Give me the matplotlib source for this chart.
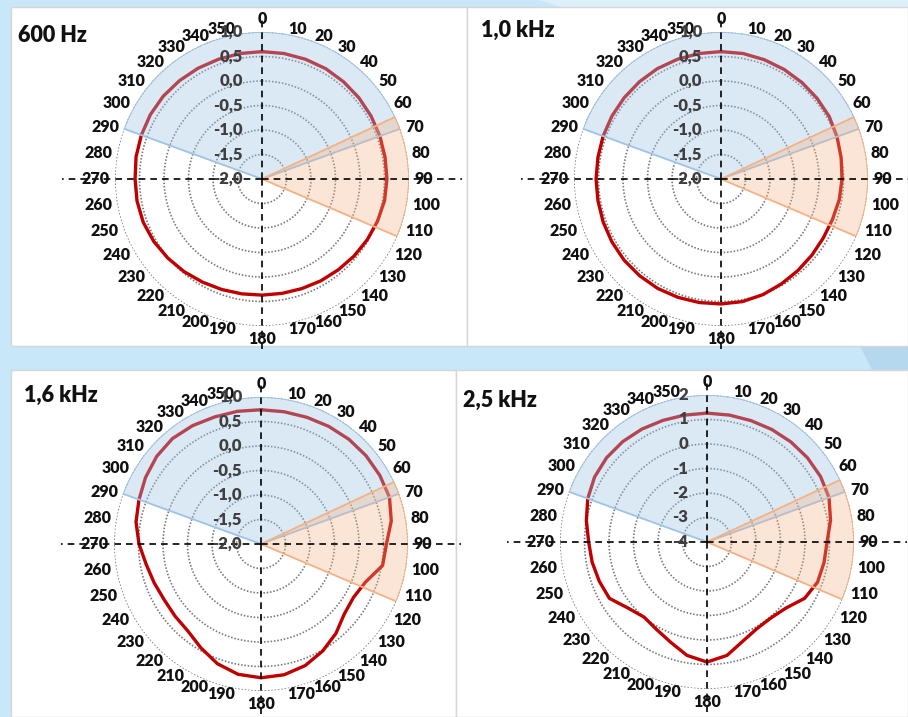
import numpy as np
import matplotlib.pyplot as plt
from matplotlib.patches import Rectangle, Polygon
from matplotlib.transforms import offset_copy

plt.rcParams['font.family'] = ['Lato', 'DejaVu Sans']

W, H = 908, 717

# measurement directions, clockwise from the front
angles = np.arange(0, 360, 10)

titles = ['600 Hz', '1,0 kHz', '1,6 kHz', '2,5 kHz']

level_600 = [0.60, 0.60, 0.60, 0.60, 0.59, 0.58, 0.57, 0.56, 0.55, 0.55,
             0.54, 0.51, 0.48, 0.45, 0.42, 0.40, 0.38, 0.37, 0.37, 0.38,
             0.40, 0.43, 0.47, 0.51, 0.55, 0.58, 0.59, 0.59, 0.61, 0.62,
             0.63, 0.63, 0.62, 0.61, 0.60, 0.60]
level_1k0 = [0.60, 0.60, 0.59, 0.58, 0.57, 0.56, 0.55, 0.52, 0.49, 0.47,
             0.45, 0.42, 0.41, 0.42, 0.44, 0.47, 0.51, 0.54, 0.55, 0.56,
             0.57, 0.58, 0.58, 0.58, 0.57, 0.56, 0.55, 0.55, 0.55, 0.56,
             0.57, 0.58, 0.59, 0.60, 0.60, 0.60]
level_1k6 = [0.74, 0.74, 0.75, 0.77, 0.79, 0.80, 0.80, 0.79, 0.70, 0.56,
             0.52, 0.27, 0.18, 0.22, 0.38, 0.52, 0.64, 0.71, 0.73, 0.70,
             0.60, 0.45, 0.32, 0.29, 0.28, 0.32, 0.38, 0.49, 0.59, 0.65,
             0.72, 0.78, 0.81, 0.79, 0.76, 0.75]
level_2k5 = [1.26, 1.26, 1.27, 1.30, 1.33, 1.35, 1.35, 1.30, 1.12, 0.90,
             0.85, 0.80, 0.60, 0.20, 0.05, 0.08, 0.30, 0.70, 0.90, 0.70,
             0.35, 0.12, 0.00, 0.20, 0.60, 0.68, 0.76, 0.83, 1.00, 1.18,
             1.30, 1.35, 1.35, 1.32, 1.28, 1.26]

levels = [level_600, level_1k0, level_1k6, level_2k5]

# radial scale (min, max, step) per panel
scales = [(-2.0, 1.0, 0.5), (-2.0, 1.0, 0.5), (-2.0, 1.0, 0.5), (-4, 2, 1)]

# highlighted sectors: (start, end) in degrees
front_sector = (-70, 70)
side_sector = (65, 113)

# layout in pixels
panels = [(11, 7, 467, 346), (467, 7, 908, 346),
          (11, 370, 456, 717), (456, 370, 908, 717)]
centers = [(262, 179), (721, 179), (261, 544), (707, 542)]
title_pos = [(18, 36), (481, 30), (24, 395), (463, 400)]
R = 147

fig = plt.figure(figsize=(W / 100, H / 100), dpi=100)
fig.patch.set_facecolor('#c8e7f8')


def fpx(x, y):
    return (x / W, 1 - y / H)


# lighter and darker swooshes of the backdrop
fig.add_artist(Polygon([fpx(540, 0), fpx(908, 0), fpx(908, 7), fpx(560, 7)],
                       closed=True, transform=fig.transFigure,
                       facecolor='#ddeff9', edgecolor='none', zorder=-6))
fig.add_artist(Polygon([fpx(860, 346), fpx(908, 346), fpx(908, 370), fpx(872, 370)],
                       closed=True, transform=fig.transFigure,
                       facecolor='#b6d8ee', edgecolor='none', zorder=-6))

for x0, y0, x1, y1 in panels:
    fig.add_artist(Rectangle(fpx(x0, y1), (x1 - x0) / W, (y1 - y0) / H,
                             transform=fig.transFigure, facecolor='white',
                             edgecolor='#d6d6d6', lw=1.0, zorder=-5))


def fmt(v, step):
    if step < 1:
        return f'{v:.1f}'.replace('.', ',')
    return f'{v:.0f}'


for i in range(4):
    cx, cy = centers[i]
    rmin, rmax, step = scales[i]
    rng = rmax - rmin
    ax = fig.add_axes([(cx - R) / W, 1 - (cy + R) / H, 2 * R / W, 2 * R / H],
                      projection='polar')
    ax.set_theta_zero_location('N')
    ax.set_theta_direction(-1)
    ax.set_ylim(rmin, rmax)
    ax.set_xticks([])
    ax.set_yticks([])
    ax.grid(False)
    ax.spines['polar'].set_visible(False)
    ax.patch.set_alpha(0)

    # dotted rings
    th = np.linspace(0, 2 * np.pi, 361)
    rings = np.arange(rmin + step, rmax + step / 2, step)
    for v in rings:
        ax.plot(th, np.full_like(th, v), color='#767676', lw=1.2,
                ls=(0, (0.9, 1.1)), zorder=1)

    # measured level
    t = np.deg2rad(np.append(angles, angles[0]))
    vals = np.append(levels[i], levels[i][0])
    ax.plot(t, vals, color='#c00000', lw=2.4, zorder=3)

    # sectors
    a0, a1 = front_sector
    ax.bar(np.deg2rad((a0 + a1) / 2), rng, width=np.deg2rad(a1 - a0), bottom=rmin,
           facecolor=(0.616, 0.765, 0.902, 0.36), edgecolor='#9dc3e6', lw=1.3,
           zorder=4)
    a0, a1 = side_sector
    ax.bar(np.deg2rad((a0 + a1) / 2), rng, width=np.deg2rad(a1 - a0), bottom=rmin,
           facecolor=(0.957, 0.694, 0.514, 0.32), edgecolor='#f4b183', lw=1.3,
           zorder=4)

    # dashed cross through the centre
    dash = dict(color='black', lw=1.2, ls=(0, (4, 3)), clip_on=False, zorder=6)
    ax.plot([0, 0], [rmin, rmin + 1.08 * rng], **dash)
    ax.plot([np.pi, np.pi], [rmin, rmin + 1.18 * rng], **dash)
    ax.plot([np.pi / 2, np.pi / 2], [rmin, rmin + 1.36 * rng], **dash)
    ax.plot([1.5 * np.pi, 1.5 * np.pi], [rmin, rmin + 1.36 * rng], **dash)

    # angle labels
    r_lab = rmax + 0.035 * rng
    for a in angles:
        if a == 0:
            ha, va = 'center', 'bottom'
        elif a == 180:
            ha, va = 'center', 'top'
        elif a < 180:
            ha, va = 'left', 'center'
        else:
            ha, va = 'right', 'center'
        ax.text(np.deg2rad(a), r_lab, str(a), ha=ha, va=va, fontsize=11.5,
                fontweight='heavy', color='#111111', clip_on=False, zorder=7)

    # level labels along the front axis
    tr = offset_copy(ax.transData, fig=fig, x=-19, y=0, units='dots')
    for v in np.arange(rmin, rmax + step / 2, step):
        ax.text(0, v, fmt(v, step), transform=tr, ha='right', va='center',
                fontsize=12, fontweight='heavy', color='#3f3f3f', zorder=7)

    tx, ty = title_pos[i]
    fig.text(tx / W, 1 - ty / H, titles[i], ha='left', va='center',
             fontsize=15.5, fontweight='heavy', color='#111111')

fig.savefig('out.png', dpi=100, facecolor=fig.get_facecolor())
